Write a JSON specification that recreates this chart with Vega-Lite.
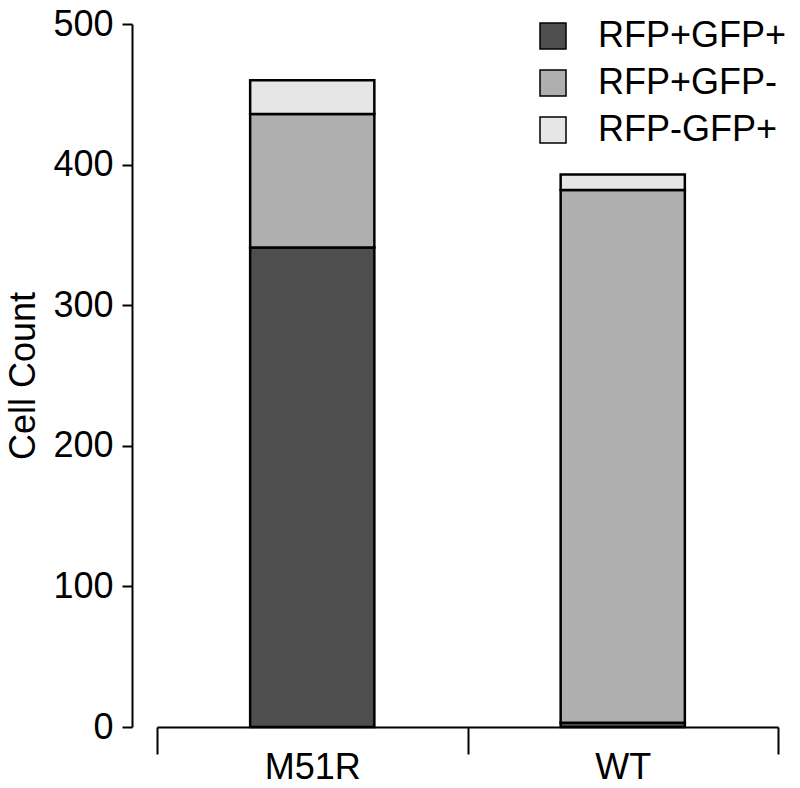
{
  "$schema": "https://vega.github.io/schema/vega-lite/v6.json",
  "width": 621,
  "height": 703,
  "autosize": {"type": "none"},
  "padding": {"left": 157, "top": 24, "right": 22, "bottom": 61},
  "background": "white",
  "config": {
    "view": {"stroke": null},
    "font": "Liberation Sans"
  },
  "data": {
    "values": [
      {"group": "M51R", "type": "RFP+GFP+", "count": 341, "ord": 1},
      {"group": "M51R", "type": "RFP+GFP-", "count": 95, "ord": 2},
      {"group": "M51R", "type": "RFP-GFP+", "count": 24, "ord": 3},
      {"group": "WT", "type": "RFP+GFP+", "count": 3, "ord": 1},
      {"group": "WT", "type": "RFP+GFP-", "count": 379, "ord": 2},
      {"group": "WT", "type": "RFP-GFP+", "count": 11, "ord": 3}
    ]
  },
  "mark": {"type": "bar", "stroke": "black", "strokeWidth": 2.5, "width": {"band": 0.4}},
  "encoding": {
    "x": {
      "field": "group",
      "type": "nominal",
      "sort": ["M51R", "WT"],
      "scale": {"paddingInner": 0, "paddingOuter": 0},
      "axis": {
        "title": null,
        "labelAngle": 0,
        "tickBand": "extent",
        "tickSize": 27,
        "tickWidth": 2,
        "tickColor": "black",
        "domainWidth": 2,
        "domainColor": "black",
        "labelFontSize": 36,
        "labelColor": "black",
        "labelPadding": -4
      }
    },
    "y": {
      "field": "count",
      "type": "quantitative",
      "stack": "zero",
      "scale": {"domain": [0, 500], "nice": false},
      "axis": {
        "title": "Cell Count",
        "titleFontSize": 36,
        "titleFontWeight": "normal",
        "titleColor": "black",
        "titlePadding": 10,
        "values": [0, 100, 200, 300, 400, 500],
        "offset": 25,
        "grid": false,
        "tickSize": 10,
        "tickWidth": 2,
        "tickColor": "black",
        "domainWidth": 2,
        "domainColor": "black",
        "labelFontSize": 36,
        "labelColor": "black",
        "labelPadding": 9
      }
    },
    "color": {
      "field": "type",
      "type": "nominal",
      "scale": {
        "domain": ["RFP+GFP+", "RFP+GFP-", "RFP-GFP+"],
        "range": ["#4e4e4e", "#afafaf", "#e6e6e6"]
      },
      "legend": {
        "title": null,
        "orient": "none",
        "legendX": 378,
        "legendY": -6,
        "padding": 0,
        "symbolType": "square",
        "symbolSize": 676,
        "symbolStrokeColor": "black",
        "symbolStrokeWidth": 1.5,
        "symbolOpacity": 1,
        "labelFontSize": 36,
        "labelColor": "black",
        "labelOffset": 27,
        "labelLimit": 400,
        "rowPadding": 11
      }
    },
    "order": {"field": "ord", "type": "quantitative"}
  }
}
